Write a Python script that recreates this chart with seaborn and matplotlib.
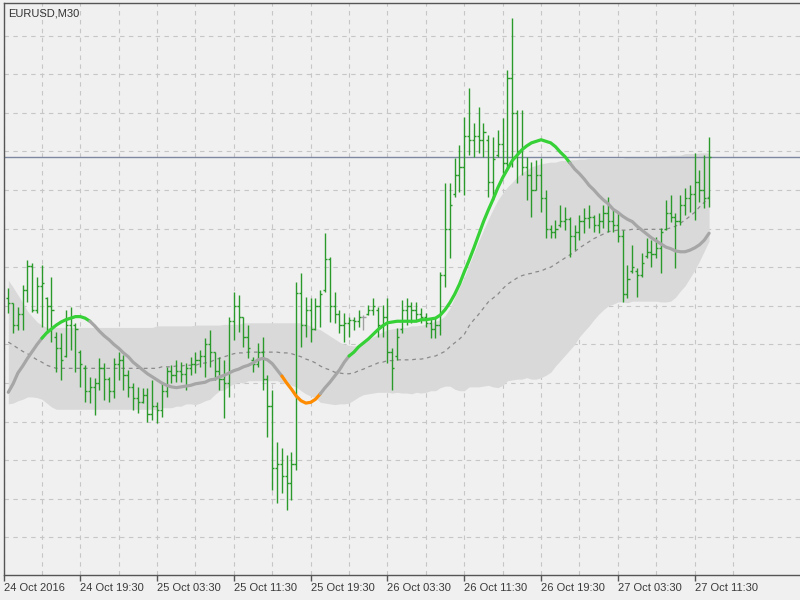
import numpy as np
import matplotlib
matplotlib.use("Agg")
import matplotlib.pyplot as plt
import seaborn as sns

# EURUSD M30 prices, stored in points (1 point = 0.00001)
POINT = 0.00001

high_pts = [
    109023, 109004, 108998, 109027, 109059, 109055, 109037, 109053, 109011, 109037,
    108966, 108965, 108995, 108998, 108978, 108943, 108923, 108908, 108906, 108932,
    108926, 108908, 108932, 108940, 108936, 108917, 108900, 108895, 108894, 108894,
    108904, 108875, 108901, 108921, 108923, 108930, 108927, 108926, 108934, 108940,
    108943, 108958, 108969, 108940, 108934, 108930, 108985, 109018, 109014, 108985,
    108975, 108934, 108952, 108960, 108910, 108891, 108824, 108816, 108807, 108811,
    109031, 109042, 109011, 109010, 109010, 109020, 109094, 109063, 109018, 108995,
    108991, 108985, 108985, 108995, 108988, 109001, 109010, 108998, 109001, 109010,
    108945, 108971, 109008, 109010, 109005, 109005, 108997, 108991, 108984, 108984,
    109044, 109159, 109159, 109191, 109208, 109244, 109282, 109237, 109257, 109237,
    109221, 109219, 109228, 109243, 109305, 109373, 109254, 109254, 109193, 109186,
    109189, 109191, 109150, 109105, 109111, 109131, 109128, 109115, 109105, 109118,
    109127, 109131, 109118, 109120, 109131, 109141, 109124, 109121, 109098, 109053,
    109079, 109049, 109068, 109088, 109085, 109089, 109101, 109137, 109143, 109120,
    109143, 109153, 109156, 109198, 109176, 109195, 109219,
]
low_pts = [
    108991, 108965, 108969, 108969, 109005, 108992, 108991, 108973, 108965, 108953,
    108914, 108904, 108934, 108943, 108914, 108895, 108875, 108874, 108859, 108891,
    108878, 108875, 108881, 108904, 108891, 108882, 108865, 108861, 108874, 108850,
    108852, 108848, 108856, 108882, 108900, 108901, 108901, 108891, 108910, 108913,
    108921, 108908, 108921, 108904, 108891, 108855, 108882, 108956, 108966, 108947,
    108932, 108914, 108921, 108891, 108830, 108761, 108745, 108758, 108736, 108749,
    108787, 108947, 108960, 108953, 108969, 108973, 109018, 108979, 108978, 108965,
    108953, 108960, 108969, 108973, 108969, 108988, 108988, 108960, 108960, 108926,
    108891, 108930, 108965, 108975, 108978, 108982, 108978, 108973, 108958, 108958,
    108962, 109024, 109062, 109141, 109147, 109143, 109195, 109193, 109198, 109193,
    109141, 109137, 109193, 109172, 109176, 109180, 109159, 109169, 109137, 109115,
    109150, 109121, 109088, 109088, 109088, 109102, 109098, 109063, 109072, 109085,
    109094, 109101, 109096, 109094, 109101, 109096, 109096, 109083, 109005, 109010,
    109042, 109011, 109037, 109062, 109050, 109062, 109042, 109098, 109109, 109049,
    109105, 109118, 109121, 109111, 109134, 109127, 109128,
]
open_pts = [
    109010, 109004, 108975, 108990, 109020, 109052, 108995, 109025, 109010, 109000,
    108960, 108945, 108935, 108975, 108975, 108940, 108920, 108890, 108895, 108900,
    108920, 108905, 108890, 108925, 108930, 108910, 108895, 108880, 108875, 108885,
    108860, 108870, 108865, 108890, 108915, 108910, 108915, 108912, 108920, 108925,
    108930, 108935, 108950, 108940, 108915, 108905, 108900, 108980, 109000, 108985,
    108960, 108930, 108925, 108940, 108905, 108870, 108790, 108795, 108780, 108770,
    108795, 109016, 108975, 108995, 108970, 109000, 109020, 109060, 109000, 108990,
    108975, 108978, 108982, 108980, 108985, 108990, 108995, 108995, 108975, 108985,
    108940, 108935, 108970, 108995, 109000, 108995, 108990, 108985, 108978, 108970,
    108975, 109040, 109100, 109145, 109170, 109180, 109220, 109215, 109220, 109215,
    109215, 109160, 109195, 109210, 109185, 109295, 109250, 109200, 109180, 109170,
    109150, 109170, 109140, 109100, 109095, 109105, 109110, 109113, 109090, 109095,
    109110, 109114, 109115, 109105, 109110, 109120, 109110, 109105, 109090, 109015,
    109045, 109045, 109040, 109065, 109070, 109067, 109075, 109100, 109120, 109115,
    109110, 109130, 109140, 109145, 109160, 109150, 109140,
]
close_pts = [
    109004, 108975, 108990, 109020, 109052, 108995, 109025, 109030, 109000, 108995,
    108945, 108930, 108975, 108985, 108970, 108925, 108890, 108895, 108900, 108920,
    108905, 108890, 108925, 108930, 108910, 108895, 108880, 108875, 108885, 108860,
    108870, 108865, 108890, 108915, 108910, 108915, 108912, 108920, 108925, 108930,
    108935, 108950, 108940, 108915, 108905, 108900, 108980, 109000, 108985, 108960,
    108945, 108925, 108940, 108905, 108870, 108790, 108795, 108780, 108770, 108795,
    109016, 108975, 108995, 108970, 109000, 109015, 109060, 109000, 108990, 108975,
    108978, 108982, 108980, 108985, 108985, 108995, 109000, 108975, 108985, 108940,
    108920, 108960, 108995, 109000, 108995, 108990, 108985, 108978, 108970, 108975,
    109040, 109100, 109130, 109170, 109180, 109220, 109215, 109220, 109215, 109225,
    109160, 109190, 109210, 109185, 109295, 109250, 109200, 109180, 109170, 109150,
    109170, 109140, 109100, 109095, 109100, 109110, 109113, 109090, 109095, 109110,
    109114, 109115, 109105, 109110, 109120, 109110, 109105, 109090, 109015, 109035,
    109050, 109040, 109055, 109070, 109067, 109075, 109095, 109120, 109115, 109110,
    109130, 109140, 109145, 109160, 109150, 109140, 109193,
]

# smoothed trend line (coloured by state)
trend_pts = [
    108888, 108899, 108913, 108922, 108932, 108941, 108950, 108958, 108965, 108970,
    108975, 108979, 108982, 108984, 108986, 108986, 108984, 108980, 108974, 108967,
    108961, 108956, 108950, 108945, 108939, 108934, 108927, 108922, 108917, 108912,
    108908, 108904, 108900, 108897, 108895, 108894, 108895, 108896, 108897, 108899,
    108900, 108901, 108904, 108905, 108908, 108910, 108913, 108916, 108918, 108921,
    108923, 108926, 108930, 108932, 108930, 108925, 108917, 108909, 108900, 108892,
    108883, 108877, 108874, 108875, 108879, 108886, 108894, 108901, 108909, 108917,
    108927, 108935, 108940, 108947, 108952, 108957, 108963, 108969, 108974, 108978,
    108979, 108980, 108980, 108980, 108980, 108980, 108982, 108982, 108983, 108984,
    108988, 108995, 109004, 109015, 109028, 109044, 109059, 109075, 109092, 109109,
    109124, 109138, 109153, 109166, 109177, 109188, 109195, 109202, 109207, 109211,
    109213, 109215, 109213, 109211, 109206, 109199, 109193, 109185, 109177, 109171,
    109164, 109156, 109150, 109143, 109137, 109132, 109125, 109121, 109116, 109112,
    109109, 109103, 109098, 109093, 109088, 109084, 109080, 109076, 109074, 109071,
    109070, 109070, 109072, 109075, 109079, 109085, 109094,
]
trend_states = ["flat", "up", "flat", "down", "flat", "up", "flat"]
trend_runs = [7, 10, 40, 8, 6, 46, 30]

# envelope band
band_mid_pts = [
    108953, 108949, 108945, 108941, 108938, 108934, 108930, 108927, 108923, 108921,
    108919, 108919, 108919, 108919, 108919, 108919, 108919, 108919, 108919, 108919,
    108919, 108919, 108919, 108919, 108919, 108919, 108919, 108919, 108919, 108919,
    108919, 108919, 108921, 108921, 108921, 108922, 108922, 108923, 108923, 108923,
    108925, 108926, 108927, 108930, 108932, 108934, 108936, 108938, 108939, 108939,
    108940, 108940, 108940, 108940, 108940, 108940, 108940, 108939, 108939, 108938,
    108936, 108934, 108931, 108929, 108926, 108922, 108919, 108917, 108914, 108913,
    108912, 108912, 108913, 108916, 108918, 108921, 108923, 108926, 108927, 108929,
    108929, 108930, 108930, 108930, 108930, 108931, 108931, 108932, 108934, 108935,
    108938, 108941, 108947, 108952, 108957, 108963, 108974, 108982, 108989, 108997,
    109005, 109010, 109015, 109022, 109028, 109032, 109036, 109039, 109041, 109042,
    109044, 109045, 109048, 109050, 109054, 109058, 109062, 109066, 109070, 109075,
    109079, 109083, 109087, 109090, 109093, 109096, 109097, 109098, 109098, 109098,
    109099, 109099, 109099, 109099, 109099, 109099, 109099, 109099, 109101, 109103,
    109107, 109111, 109116, 109121, 109128, 109134, 109141,
]
band_upper_pts = [
    109033, 109024, 109014, 109004, 108993, 108986, 108979, 108975, 108972, 108972,
    108972, 108972, 108972, 108972, 108972, 108972, 108972, 108972, 108972, 108972,
    108972, 108972, 108972, 108972, 108972, 108972, 108972, 108972, 108972, 108972,
    108972, 108974, 108974, 108974, 108974, 108974, 108974, 108974, 108974, 108975,
    108975, 108975, 108975, 108975, 108975, 108976, 108976, 108976, 108976, 108978,
    108978, 108978, 108978, 108978, 108978, 108978, 108978, 108978, 108978, 108978,
    108978, 108978, 108976, 108974, 108971, 108969, 108965, 108961, 108957, 108953,
    108950, 108949, 108948, 108949, 108952, 108956, 108960, 108963, 108966, 108969,
    108970, 108971, 108972, 108972, 108974, 108974, 108975, 108976, 108978, 108980,
    108982, 108987, 108997, 109011, 109024, 109037, 109053, 109068, 109084, 109098,
    109112, 109125, 109137, 109146, 109154, 109160, 109167, 109172, 109176, 109180,
    109182, 109184, 109185, 109186, 109186, 109188, 109188, 109189, 109189, 109190,
    109190, 109191, 109191, 109191, 109191, 109191, 109191, 109191, 109191, 109193,
    109193, 109193, 109193, 109193, 109193, 109193, 109194, 109194, 109195, 109195,
    109195, 109197, 109197, 109197, 109198, 109198, 109198,
]
band_lower_pts = [
    108873, 108874, 108877, 108879, 108882, 108882, 108881, 108879, 108874, 108869,
    108866, 108866, 108866, 108866, 108866, 108866, 108866, 108866, 108866, 108866,
    108866, 108866, 108866, 108866, 108866, 108866, 108866, 108866, 108866, 108866,
    108866, 108865, 108868, 108868, 108868, 108870, 108870, 108873, 108873, 108872,
    108874, 108877, 108879, 108885, 108890, 108891, 108896, 108899, 108901, 108900,
    108903, 108903, 108903, 108903, 108903, 108903, 108903, 108900, 108900, 108897,
    108895, 108890, 108886, 108883, 108881, 108875, 108874, 108873, 108872, 108873,
    108873, 108874, 108878, 108882, 108885, 108886, 108887, 108888, 108888, 108888,
    108887, 108888, 108887, 108887, 108886, 108888, 108887, 108888, 108890, 108890,
    108894, 108896, 108896, 108892, 108890, 108890, 108895, 108895, 108895, 108896,
    108897, 108895, 108894, 108897, 108903, 108904, 108905, 108905, 108907, 108905,
    108905, 108907, 108910, 108914, 108922, 108929, 108936, 108943, 108950, 108960,
    108967, 108974, 108982, 108989, 108995, 109000, 109002, 109005, 109005, 109004,
    109006, 109006, 109006, 109006, 109006, 109006, 109005, 109005, 109006, 109011,
    109019, 109026, 109036, 109046, 109058, 109071, 109084,
]

tick_bars = [-1, 15, 31, 47, 63, 79, 95, 111, 127, 143]
tick_labels = ["24 Oct 2016", "24 Oct 19:30", "25 Oct 03:30", "25 Oct 11:30",
               "25 Oct 19:30", "26 Oct 03:30", "26 Oct 11:30", "26 Oct 19:30",
               "27 Oct 03:30", "27 Oct 11:30"]

sns.set_style("white")
plt.rcParams["font.family"] = ["Liberation Sans", "DejaVu Sans"]

high = np.array(high_pts) * POINT
low = np.array(low_pts) * POINT
opn = np.array(open_pts) * POINT
cls = np.array(close_pts) * POINT
trend = np.array(trend_pts) * POINT
mid = np.array(band_mid_pts) * POINT
upper = np.array(band_upper_pts) * POINT
lower = np.array(band_lower_pts) * POINT
idx = np.arange(len(high))

bg = "#f0f0f0"
fig = plt.figure(figsize=(8, 6), dpi=100, facecolor=bg)
ax = fig.add_axes([3.5 / 800, 25 / 600, 1 - 3.5 / 800, 572 / 600])
ax.set_facecolor(bg)

# band + middle line
ax.fill_between(idx, lower, upper, color="#d9d9d9", lw=0, zorder=1)
sns.lineplot(x=idx, y=mid, ax=ax, color="#8a8a8a", lw=0.9,
             linestyle=(0, (3, 3)), zorder=2)

# current price line
ax.axhline(cls[-1], color="#7b88a0", lw=1.0, zorder=2)

# OHLC bars
bar_colors = ["#a0a0a0" if o == c else "#2a9a2a" for o, c in zip(open_pts, close_pts)]
ax.vlines(idx, low, high, colors=bar_colors, lw=1.0, zorder=3)
ax.hlines(opn, idx - 0.42, idx, colors=bar_colors, lw=1.0, zorder=3)
ax.hlines(cls, idx, idx + 0.42, colors=bar_colors, lw=1.0, zorder=3)

# coloured trend line
state_colors = {"flat": "#a6a6a6", "up": "#36d136", "down": "#ff8c00"}
start = 0
for state, run in zip(trend_states, trend_runs):
    end = min(start + run + 1, len(idx))
    sns.lineplot(x=idx[start:end], y=trend[start:end], ax=ax,
                 color=state_colors[state], lw=2.3, zorder=4,
                 solid_capstyle="round")
    start += run

ax.set_xlim(-1, (800 - 8.3) / 4.8)
ax.set_ylim(1.086514, 1.093921)

ax.set_xticks(tick_bars)
ax.set_xticklabels(tick_labels)
ax.set_xticks([b + 8 for b in tick_bars], minor=True)
ax.set_yticks(np.arange(1.0870, 1.09351, 0.0005))
ax.set_yticklabels([])
ax.tick_params(axis="x", which="major", direction="out", length=4, width=1,
               color="#555555", pad=2, labelsize=8, labelcolor="#3a3a3a", bottom=True)
ax.tick_params(axis="x", which="minor", length=0)
ax.tick_params(axis="y", length=0)
for lbl in ax.get_xticklabels():
    lbl.set_ha("left")

ax.grid(True, which="both", color="#c6c6c6", lw=0.8, linestyle=(0, (4, 4)))
ax.set_axisbelow(True)

for side in ["left", "top", "bottom"]:
    ax.spines[side].set_color("#555555")
    ax.spines[side].set_linewidth(1.0)
ax.spines["right"].set_visible(False)
ax.set_xlabel("")
ax.set_ylabel("")

fig.text(8 / 800, 1 - 8 / 600, "EURUSD,M30", ha="left", va="top",
         fontsize=8, color="#333333")

fig.savefig("out.png", dpi=100, facecolor=bg)
